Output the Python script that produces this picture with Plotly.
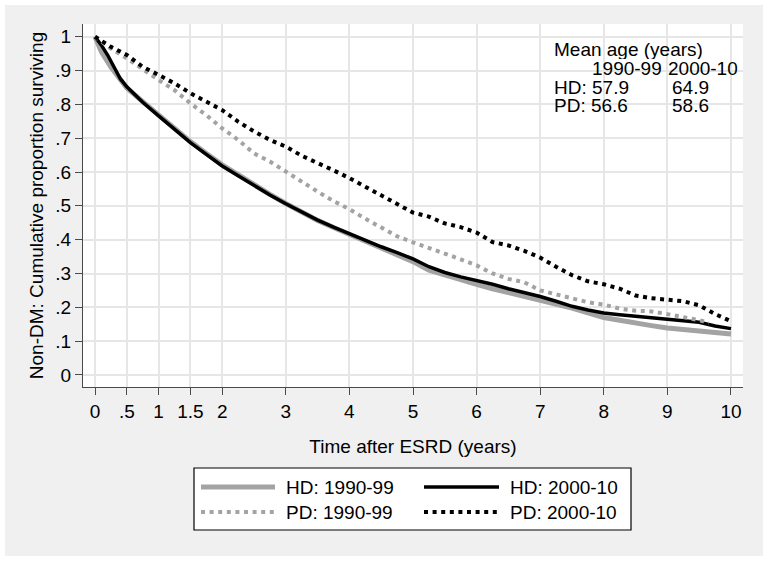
import plotly.graph_objects as go

# ---- data ----
t_hd90 = [0, 0.1, 0.25, 0.5, 0.75, 1, 1.25, 1.5, 1.75, 2, 2.25, 2.5, 2.75, 3, 3.25, 3.5, 3.75, 4,
          4.25, 4.5, 4.75, 5, 5.25, 5.5, 5.75, 6, 6.25, 6.5, 6.75, 7, 7.25, 7.5, 7.75, 8, 8.25, 8.5,
          8.75, 9, 9.25, 9.5, 9.75, 10]
s_hd90 = [1, 0.955, 0.91, 0.848, 0.808, 0.768, 0.729, 0.69, 0.655, 0.621, 0.592, 0.562, 0.534, 0.507,
          0.48, 0.457, 0.436, 0.415, 0.395, 0.376, 0.356, 0.335, 0.31, 0.295, 0.28, 0.268, 0.255,
          0.244, 0.233, 0.222, 0.21, 0.198, 0.184, 0.17, 0.162, 0.153, 0.146, 0.139, 0.134, 0.13,
          0.125, 0.121]

t_hd00 = [0, 0.1, 0.2, 0.3, 0.4, 0.5, 0.75, 1, 1.25, 1.5, 1.75, 2, 2.25, 2.5, 2.75, 3, 3.25, 3.5, 3.75, 4,
          4.25, 4.5, 4.75, 5, 5.25, 5.5, 5.75, 6, 6.25, 6.5, 6.75, 7, 7.25, 7.5, 7.75, 8, 8.25, 8.5,
          8.75, 9, 9.25, 9.5, 9.75, 10]
s_hd00 = [1, 0.975, 0.945, 0.91, 0.875, 0.852, 0.806, 0.766, 0.726, 0.687, 0.652, 0.618, 0.589, 0.56, 0.532,
          0.506, 0.481, 0.458, 0.437, 0.417, 0.398, 0.379, 0.362, 0.343, 0.32, 0.303, 0.29, 0.28,
          0.268, 0.255, 0.244, 0.232, 0.218, 0.203, 0.192, 0.183, 0.178, 0.174, 0.169, 0.164, 0.16,
          0.156, 0.145, 0.137]

t_pd90 = [0, 0.25, 0.5, 0.75, 1, 1.25, 1.5, 1.75, 2, 2.25, 2.5, 2.75, 3, 3.25, 3.5, 3.75, 4, 4.25,
          4.5, 4.75, 5, 5.25, 5.5, 5.75, 6, 6.25, 6.5, 6.75, 7, 7.25, 7.5, 7.75, 8, 8.25, 8.5, 8.75,
          9, 9.25, 9.5, 9.65]
s_pd90 = [1, 0.965, 0.936, 0.903, 0.872, 0.842, 0.803, 0.768, 0.729, 0.695, 0.655, 0.631, 0.601, 0.57,
          0.542, 0.514, 0.49, 0.462, 0.435, 0.41, 0.392, 0.376, 0.36, 0.342, 0.324, 0.3, 0.284,
          0.274, 0.25, 0.238, 0.225, 0.215, 0.208, 0.196, 0.19, 0.188, 0.18, 0.172, 0.162, 0.154]

t_pd00 = [0, 0.25, 0.5, 0.75, 1, 1.25, 1.5, 1.75, 2, 2.25, 2.5, 2.75, 3, 3.25, 3.5, 3.75, 4, 4.25,
          4.5, 4.75, 5, 5.25, 5.5, 5.75, 6, 6.25, 6.5, 6.75, 7, 7.25, 7.5, 7.75, 8, 8.25, 8.5, 8.75,
          9, 9.25, 9.5, 9.75, 10]
s_pd00 = [1, 0.97, 0.946, 0.911, 0.887, 0.862, 0.833, 0.808, 0.783, 0.749, 0.72, 0.695, 0.675, 0.648,
          0.628, 0.605, 0.582, 0.556, 0.532, 0.505, 0.48, 0.468, 0.448, 0.437, 0.421, 0.393, 0.383,
          0.367, 0.347, 0.32, 0.295, 0.277, 0.268, 0.255, 0.235, 0.227, 0.222, 0.218, 0.206, 0.18,
          0.159]

series_names = ["HD: 1990-99", "HD: 2000-10", "PD: 1990-99", "PD: 2000-10"]
x_ticks = [0, 0.5, 1, 1.5, 2, 3, 4, 5, 6, 7, 8, 9, 10]
x_tick_labels = ["0", ".5", "1", "1.5", "2", "3", "4", "5", "6", "7", "8", "9", "10"]
y_ticks = [0, 0.1, 0.2, 0.3, 0.4, 0.5, 0.6, 0.7, 0.8, 0.9, 1]
y_tick_labels = ["0", ".1", ".2", ".3", ".4", ".5", ".6", ".7", ".8", ".9", "1"]

age_header = ["Mean age (years)", "1990-99", "2000-10"]
age_rows = [("HD: 57.9", "64.9"), ("PD: 56.6", "58.6")]

# ---- styles ----
FONT = "Liberation Sans, Arial, sans-serif"
FS = 19
GRAY = "#a3a3a3"
DOT = "4px,4.6px"
styles = [
    dict(color=GRAY, width=5, dash="solid"),
    dict(color="#000000", width=3.5, dash="solid"),
    dict(color=GRAY, width=4, dash=DOT),
    dict(color="#000000", width=4, dash=DOT),
]

fig = go.Figure()
for (tt, ss), name, st in zip([(t_hd90, s_hd90), (t_hd00, s_hd00), (t_pd90, s_pd90), (t_pd00, s_pd00)],
                              series_names, styles):
    fig.add_trace(go.Scatter(x=tt, y=ss, mode="lines", name=name, line=st,
                             line_shape="linear", showlegend=False))

# plot geometry in px
L, R, T, B = 83, 743, 24, 387
W, H = R - L, B - T


def px(xp):
    return (xp - L) / W


def py(yp):
    return (B - yp) / H


shapes = [
    dict(type="rect", xref="paper", yref="paper", x0=px(5), x1=px(763), y0=py(556), y1=py(5),
         fillcolor="#f0f0f0", line=dict(width=0), layer="below"),
    dict(type="rect", xref="paper", yref="paper", x0=0, x1=1, y0=0, y1=1,
         fillcolor="#ffffff", line=dict(width=0), layer="below"),
    dict(type="rect", xref="paper", yref="paper", x0=px(194), x1=px(631), y0=py(530), y1=py(468),
         fillcolor="#ffffff", line=dict(color="#000000", width=1.2), layer="above"),
]

# manual legend entries
leg_pos = [((201, 275, 284), 487), ((424, 499, 508), 487), ((201, 275, 284), 512), ((424, 499, 508), 512)]
annotations = []
for (xs, yrow), name, st in zip(leg_pos, series_names, styles):
    shapes.append(dict(type="line", xref="paper", yref="paper", x0=px(xs[0]), x1=px(xs[1]),
                       y0=py(yrow), y1=py(yrow), line=dict(color=st["color"], width=st["width"], dash=st["dash"]),
                       layer="above"))
    annotations.append(dict(xref="paper", yref="paper", x=px(xs[2]), y=py(yrow), text=name,
                            showarrow=False, xanchor="left", yanchor="middle",
                            font=dict(family=FONT, size=FS, color="#000000")))

# mean age text block
age_items = [
    (age_header[0], 553, 49), (age_header[1], 591, 68), (age_header[2], 667, 68),
    (age_rows[0][0], 553, 87), (age_rows[0][1], 671, 87),
    (age_rows[1][0], 553, 106), (age_rows[1][1], 671, 106),
]
for txt, xx, yy in age_items:
    annotations.append(dict(xref="paper", yref="paper", x=px(xx), y=py(yy), text=txt,
                            showarrow=False, xanchor="left", yanchor="middle", height=19,
                            borderpad=0, font=dict(family=FONT, size=FS, color="#000000")))

axis_common = dict(showline=True, linecolor="#4a4a4a", linewidth=1.3, ticks="outside", ticklen=7,
                   tickwidth=1.3, tickcolor="#4a4a4a", showgrid=True, gridcolor="#e6e6e6", gridwidth=1.5,
                   zeroline=False, automargin=False,
                   tickfont=dict(family=FONT, size=FS, color="#000000"))

fig.update_layout(
    width=768, height=562,
    margin=dict(l=L, r=768 - R, t=T, b=562 - B),
    paper_bgcolor="#ffffff", plot_bgcolor="#ffffff",
    shapes=shapes, annotations=annotations, showlegend=False,
    xaxis=dict(range=[-0.189, 10.189], tickvals=x_ticks, ticktext=x_tick_labels,
               title=dict(text="Time after ESRD (years)", font=dict(family=FONT, size=FS, color="#000000"),
                          standoff=18), **axis_common),
    yaxis=dict(range=[-0.0355, 1.0375], tickvals=y_ticks, ticktext=y_tick_labels,
               title=dict(text="Non-DM: Cumulative proportion surviving",
                          font=dict(family=FONT, size=FS, color="#000000"), standoff=6), **axis_common),
)

fig.write_html("out.html", post_script="document.body.style.margin='0px';",
               config={"displayModeBar": False})
